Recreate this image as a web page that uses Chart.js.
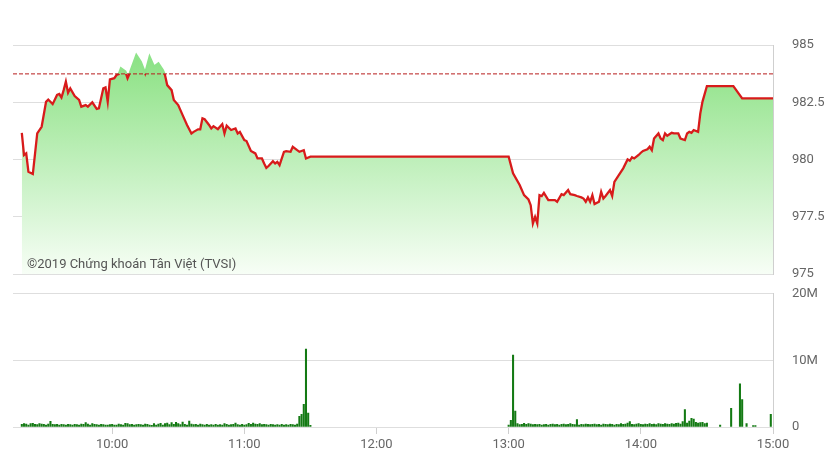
<!DOCTYPE html>
<html>
<head>
<meta charset="utf-8">
<script src="https://cdn.jsdelivr.net/npm/chart.js@4.4.1/dist/chart.umd.min.js"></script>
<style>
  html, body { margin: 0; padding: 0; background: #fff; }
  #wrap { position: relative; width: 835px; height: 469px; overflow: hidden; }
  #price { position: absolute; left: 0; top: 0; }
  #volume { position: absolute; left: 0; top: 267px; }
</style>
</head>
<body>
<div id="wrap">
  <canvas id="price" width="835" height="301"></canvas>
  <canvas id="volume" width="835" height="202"></canvas>
</div>
<script>
// price line, one point per trade snapshot
const priceTimes = [
  '9:19', '9:20', '9:21', '9:22', '9:24', '9:26', '9:28', '9:30', '9:31', '9:33',
  '9:35', '9:36', '9:37', '9:38', '9:39', '9:40', '9:41', '9:43', '9:45', '9:46',
  '9:48', '9:49', '9:51', '9:53', '9:54', '9:56', '9:57', '9:58', '9:59', '10:01',
  '10:02', '10:03', '10:04', '10:06', '10:07', '10:08', '10:11', '10:13', '10:15', '10:17',
  '10:19', '10:21', '10:23', '10:24', '10:25', '10:27', '10:28', '10:30', '10:32', '10:34',
  '10:36', '10:37', '10:39', '10:40', '10:41', '10:42', '10:44', '10:45', '10:46', '10:48',
  '10:50', '10:51', '10:52', '10:54', '10:56', '10:57', '10:58', '11:00', '11:01', '11:03',
  '11:05', '11:06', '11:08', '11:09', '11:10', '11:11', '11:13', '11:14', '11:15', '11:16',
  '11:18', '11:19', '11:21', '11:22', '11:24', '11:25', '11:27', '11:28', '11:30',
  '13:00', '13:02', '13:05', '13:07', '13:09', '13:10', '13:11', '13:12', '13:13', '13:14',
  '13:15', '13:16', '13:18', '13:20', '13:21', '13:22', '13:24', '13:25', '13:27', '13:28',
  '13:30', '13:31', '13:33', '13:34', '13:35', '13:36', '13:37', '13:38', '13:39', '13:41',
  '13:42', '13:43', '13:44', '13:46', '13:47', '13:48', '13:50', '13:52', '13:54', '13:55',
  '13:56', '13:57', '13:59', '14:00', '14:01', '14:03', '14:04', '14:05', '14:06', '14:08',
  '14:09', '14:10', '14:11', '14:12', '14:14', '14:15', '14:17', '14:18', '14:20', '14:21',
  '14:22', '14:23', '14:24', '14:26', '14:27', '14:28', '14:30', '14:42', '14:46', '15:00'
];
const priceValues = [
  981.17, 980.20, 980.27, 979.47, 979.37, 981.14, 981.43, 982.52, 982.62, 982.42,
  982.82, 982.86, 982.71, 983.03, 983.40, 982.92, 983.11, 982.77, 982.60, 982.31,
  982.38, 982.31, 982.50, 982.21, 982.24, 983.11, 983.15, 982.52, 983.50, 983.55,
  983.69, 983.73, 983.98, 983.84, 983.55, 983.77, 984.56, 984.27, 983.77, 984.49,
  984.05, 984.20, 983.91, 983.69, 983.25, 983.03, 982.60, 982.38, 981.94, 981.51,
  981.14, 981.21, 981.32, 981.32, 981.80, 981.76, 981.51, 981.36, 981.46, 981.33,
  981.55, 981.14, 981.48, 981.29, 981.36, 981.14, 981.21, 980.85, 980.81, 980.38,
  980.27, 980.05, 980.05, 979.83, 979.64, 979.72, 979.93, 979.83, 979.90, 979.76,
  980.34, 980.37, 980.34, 980.56, 980.41, 980.34, 980.41, 980.05, 980.13,
  980.13, 979.40, 978.89, 978.45, 978.26, 978.01, 977.21, 977.50, 977.21, 978.45,
  978.41, 978.55, 978.23, 978.23, 978.23, 978.16, 978.49, 978.45, 978.67, 978.49,
  978.45, 978.41, 978.35, 978.30, 978.16, 978.35, 978.16, 978.45, 978.06, 978.16,
  978.59, 978.30, 978.41, 978.67, 978.41, 979.03, 979.32, 979.62, 980.01, 979.95,
  980.10, 980.05, 980.20, 980.30, 980.38, 980.45, 980.56, 980.41, 980.92, 981.14,
  980.92, 980.85, 981.14, 981.04, 981.17, 981.14, 981.14, 980.92, 980.85, 981.14,
  981.21, 981.17, 981.29, 981.21, 982.02, 982.53, 983.21, 983.21, 982.67, 982.67
];
const refValue = 983.74;   // previous close, dashed line
const priceTicks = [975, 977.5, 980, 982.5, 985];

// volume in millions, one bar per minute from the start time
const volMorningStart = '9:19';
const volMorning = [
  0.4, 0.5, 0.45, 0.3, 0.5, 0.55, 0.4, 0.35, 0.5, 0.45,
  0.4, 0.3, 0.45, 0.85, 0.4, 0.35, 0.4, 0.3, 0.4, 0.35,
  0.3, 0.4, 0.35, 0.3, 0.4, 0.35, 0.3, 0.45, 0.4, 0.65,
  0.45, 0.3, 0.5, 0.4, 0.35, 0.3, 0.4, 0.35, 0.3, 0.3,
  0.35, 0.4, 0.3, 0.3, 0.45, 0.35, 0.3, 0.55, 0.5, 0.35,
  0.4, 0.3, 0.35, 0.4, 0.35, 0.3, 0.45, 0.4, 0.3, 0.25,
  0.5, 0.3, 0.45, 0.55, 0.3, 0.5, 0.6, 0.35, 0.65, 0.4,
  0.7, 0.5, 0.35, 0.75, 0.4, 0.3, 0.9, 0.45, 0.35, 0.4,
  0.3, 0.45, 0.35, 0.3, 0.4, 0.3, 0.35, 0.3, 0.4, 0.3,
  0.35, 0.3, 0.5, 0.4, 0.3, 0.35, 0.4, 0.6, 0.35, 0.3,
  0.4, 0.3, 0.35, 0.55, 0.4, 0.6, 0.45, 0.4, 0.5, 0.35,
  0.4, 0.35, 0.3, 0.4, 0.35, 0.3, 0.35, 0.3, 0.4, 0.3,
  0.35, 0.3, 0.4, 0.35, 0.3, 0.45, 1.6, 1.9, 3.4, 11.7,
  2.1, 0.25
];
const volAfternoonStart = '13:00';
const volAfternoon = [
  0.3, 1.0, 10.8, 2.4,
  0.5, 0.35, 0.4, 0.55, 0.4, 0.5, 0.45, 0.35, 0.4, 0.35,
  0.4, 0.3, 0.35, 0.4, 0.3, 0.4, 0.45, 0.35, 0.4, 0.3,
  0.4, 0.45, 0.35, 0.4, 0.5, 0.4, 0.35, 1.1, 0.3, 0.4,
  0.35, 0.45, 0.4, 0.35, 0.4, 0.45, 0.35, 0.4, 0.3, 0.45,
  0.4, 0.35, 0.45, 0.4, 0.3, 0.4, 0.35, 0.5, 0.4, 0.45,
  0.6, 0.8, 0.4, 0.35, 0.45, 0.5, 0.4, 0.35, 0.45, 0.4,
  0.5, 0.4, 0.45, 0.35, 0.5, 0.45, 0.4, 0.5, 0.45, 0.4,
  0.5, 0.45, 0.55, 0.6, 0.45, 0.8, 2.6, 0.6, 0.9, 1.3,
  1.2, 0.7, 0.6, 0.65, 0.7, 0.5, 0.6
];
const volLateTimes = ['14:36', '14:41', '14:45', '14:46', '14:48', '14:51', '14:52', '14:59'];
const volLateValues = [0.3, 2.8, 6.5, 4.1, 0.5, 0.2, 0.2, 1.9];
const volTicks = [0, 10, 20];

const timeTicks = ['10:00', '11:00', '12:00', '13:00', '14:00', '15:00'];

function toMin(s) {
  const [h, m] = s.split(':').map(Number);
  return h * 60 + m;
}
function fmtTime(v) {
  return Math.floor(v / 60) + ':' + String(v % 60).padStart(2, '0');
}

const xMin = toMin('9:15');
const xMax = toMin('15:00');
const axisFont = { family: 'Roboto', size: 13 };
const labelColor = '#666';
const gridColor = '#dedede';

const pricePoints = priceTimes.map((t, i) => ({ x: toMin(t), y: priceValues[i] }));
const volPoints = [];
volMorning.forEach((v, i) => volPoints.push({ x: toMin(volMorningStart) + i, y: v }));
volAfternoon.forEach((v, i) => volPoints.push({ x: toMin(volAfternoonStart) + i, y: v }));
volLateTimes.forEach((t, i) => volPoints.push({ x: toMin(t), y: volLateValues[i] }));

// red under the reference, green above it (hidden in the fill)
function lineColor(ctx) {
  const chart = ctx.chart;
  const area = chart.chartArea;
  if (!area) return '#d81b1b';
  const yRef = chart.scales.y.getPixelForValue(refValue);
  const stop = Math.min(Math.max((yRef - area.top) / (area.bottom - area.top), 0), 1);
  const g = chart.ctx.createLinearGradient(0, area.top, 0, area.bottom);
  g.addColorStop(0, '#8ee389');
  g.addColorStop(stop, '#8ee389');
  g.addColorStop(stop, '#d81b1b');
  g.addColorStop(1, '#d81b1b');
  return g;
}
function fillColor(ctx) {
  const chart = ctx.chart;
  const area = chart.chartArea;
  if (!area) return '#b8eeb2';
  const g = chart.ctx.createLinearGradient(0, area.top, 0, area.bottom);
  g.addColorStop(0, '#86e07e');
  g.addColorStop(1, '#f7fef6');
  return g;
}

const copyright = {
  id: 'copyright',
  afterDatasetsDraw(chart) {
    const c = chart.ctx;
    c.save();
    c.font = '13px Roboto';
    c.fillStyle = '#555';
    c.textBaseline = 'alphabetic';
    c.fillText('\u00a92019 Ch\u1ee9ng kho\u00e1n T\u00e2n Vi\u1ec7t (TVSI)', 27, 268);
    c.restore();
  }
};

const fixAxisWidth = (scale) => { scale.width = 62; };

new Chart(document.getElementById('price'), {
  type: 'line',
  data: {
    datasets: [
      {
        data: pricePoints,
        borderColor: lineColor,
        backgroundColor: fillColor,
        fill: 'start',
        borderWidth: 2.3,
        pointRadius: 0,
        tension: 0,
        order: 1
      },
      {
        data: [{ x: xMin, y: refValue }, { x: xMax, y: refValue }],
        borderColor: '#b71c1c',
        borderWidth: 1,
        borderDash: [4, 2],
        pointRadius: 0,
        fill: false,
        order: 0
      }
    ]
  },
  options: {
    responsive: false,
    animation: false,
    layout: { padding: { left: 13, top: 45, bottom: 0, right: 0 } },
    plugins: { legend: { display: false }, tooltip: { enabled: false } },
    scales: {
      x: { type: 'linear', display: false, min: xMin, max: xMax },
      y: {
        position: 'right',
        min: 975,
        max: 985,
        afterFit: fixAxisWidth,
        afterBuildTicks: (s) => { s.ticks = priceTicks.map(v => ({ value: v })); },
        ticks: { color: labelColor, font: axisFont, padding: 19 },
        grid: { color: gridColor, drawTicks: false },
        border: { display: true, color: '#cfcfcf' }
      }
    }
  },
  plugins: [copyright]
});

new Chart(document.getElementById('volume'), {
  type: 'bar',
  data: {
    datasets: [{
      data: volPoints,
      backgroundColor: '#147a14',
      barThickness: 1.4
    }]
  },
  options: {
    responsive: false,
    animation: false,
    layout: { padding: { left: 13, top: 0, bottom: 0, right: 0 } },
    plugins: { legend: { display: false }, tooltip: { enabled: false } },
    scales: {
      x: {
        type: 'linear',
        offset: false,
        min: xMin,
        max: xMax,
        afterFit: (s) => { s.height = 42; },
        afterBuildTicks: (s) => { s.ticks = timeTicks.map(t => ({ value: toMin(t) })); },
        ticks: { color: labelColor, font: axisFont, padding: 3, maxRotation: 0, autoSkip: false, callback: (v) => fmtTime(v) },
        grid: { offset: false, drawOnChartArea: false, drawTicks: true, tickLength: 7, color: '#cfcfcf' },
        border: { display: false }
      },
      y: {
        position: 'right',
        min: 0,
        max: 20,
        afterFit: fixAxisWidth,
        afterBuildTicks: (s) => { s.ticks = volTicks.map(v => ({ value: v })); },
        ticks: { color: labelColor, font: axisFont, padding: 19, callback: (v) => v === 0 ? '0' : v + 'M' },
        grid: { color: gridColor, drawTicks: false },
        border: { display: true, color: '#cfcfcf' }
      }
    }
  }
});
</script>
</body>
</html>
